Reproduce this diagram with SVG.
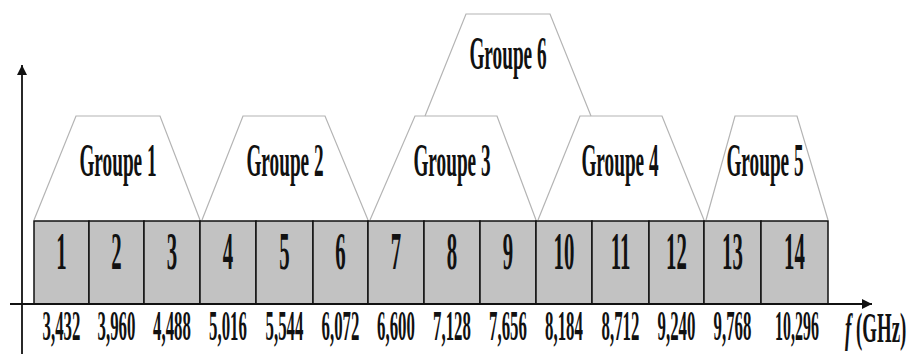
<svg xmlns="http://www.w3.org/2000/svg" width="909" height="354" viewBox="0 0 909 354">
<style>
.trap{fill:none;stroke:#b4b4b4;stroke-width:1.2}
.cell{fill:#c2c2c2;stroke:#111;stroke-width:1.5}
.t{font-family:"Liberation Serif","Times New Roman",serif;font-weight:bold;fill:#111;text-anchor:middle}
.grp{font-size:47px}
.num{font-size:52px}
.freq{font-size:42px}
.axis{stroke:#111;stroke-width:1.8;fill:none}
</style>
<defs>
<marker id="arr" viewBox="0 0 10 10" refX="10" refY="5" markerWidth="10" markerHeight="10" markerUnits="userSpaceOnUse" orient="auto">
<path d="M0,0 L10,5 L0,10 Z" fill="#111"/>
</marker>
</defs>
<rect width="909" height="354" fill="#fff"/>

<g id="groups">
<g id="groupe1"><polyline class="trap" points="34,220 76,116 160,116 200,220"/><text class="t grp" transform="translate(118 176) scale(0.41 1)">Groupe 1</text></g>
<g id="groupe2"><polyline class="trap" points="202,220 243,116 325,116 368,220"/><text class="t grp" transform="translate(285 176) scale(0.41 1)">Groupe 2</text></g>
<g id="groupe3"><polyline class="trap" points="370,220 415,116 497,116 536,220"/><text class="t grp" transform="translate(452 176) scale(0.41 1)">Groupe 3</text></g>
<g id="groupe4"><polyline class="trap" points="538,220 580,116 662,116 704,220"/><text class="t grp" transform="translate(620 176) scale(0.41 1)">Groupe 4</text></g>
<g id="groupe5"><polyline class="trap" points="706,220 735,116 797,116 828,220"/><text class="t grp" transform="translate(765 176) scale(0.41 1)">Groupe 5</text></g>
<g id="groupe6"><polyline class="trap" points="425,116 466,14 550,14 591,116"/><text class="t grp" transform="translate(508 69) scale(0.41 1)">Groupe 6</text></g>
</g>

<g id="cells">
<g id="c1"><rect class="cell" x="34" y="221" width="55" height="83"/><text class="t num" transform="translate(61.5 269) scale(0.4 1)">1</text><text class="t freq" transform="translate(61.5 340) scale(0.4 1)">3,432</text></g>
<g id="c2"><rect class="cell" x="89" y="221" width="55" height="83"/><text class="t num" transform="translate(116.5 269) scale(0.4 1)">2</text><text class="t freq" transform="translate(116.5 340) scale(0.4 1)">3,960</text></g>
<g id="c3"><rect class="cell" x="144" y="221" width="56" height="83"/><text class="t num" transform="translate(172 269) scale(0.4 1)">3</text><text class="t freq" transform="translate(172 340) scale(0.4 1)">4,488</text></g>
<g id="c4"><rect class="cell" x="200" y="221" width="56" height="83"/><text class="t num" transform="translate(228 269) scale(0.4 1)">4</text><text class="t freq" transform="translate(228 340) scale(0.4 1)">5,016</text></g>
<g id="c5"><rect class="cell" x="256" y="221" width="57" height="83"/><text class="t num" transform="translate(284.5 269) scale(0.4 1)">5</text><text class="t freq" transform="translate(284.5 340) scale(0.4 1)">5,544</text></g>
<g id="c6"><rect class="cell" x="313" y="221" width="55" height="83"/><text class="t num" transform="translate(340.5 269) scale(0.4 1)">6</text><text class="t freq" transform="translate(340.5 340) scale(0.4 1)">6,072</text></g>
<g id="c7"><rect class="cell" x="368" y="221" width="56" height="83"/><text class="t num" transform="translate(396 269) scale(0.4 1)">7</text><text class="t freq" transform="translate(396 340) scale(0.4 1)">6,600</text></g>
<g id="c8"><rect class="cell" x="424" y="221" width="56" height="83"/><text class="t num" transform="translate(452 269) scale(0.4 1)">8</text><text class="t freq" transform="translate(452 340) scale(0.4 1)">7,128</text></g>
<g id="c9"><rect class="cell" x="480" y="221" width="56" height="83"/><text class="t num" transform="translate(508 269) scale(0.4 1)">9</text><text class="t freq" transform="translate(508 340) scale(0.4 1)">7,656</text></g>
<g id="c10"><rect class="cell" x="536" y="221" width="56" height="83"/><text class="t num" transform="translate(564 269) scale(0.4 1)">10</text><text class="t freq" transform="translate(564 340) scale(0.4 1)">8,184</text></g>
<g id="c11"><rect class="cell" x="592" y="221" width="57" height="83"/><text class="t num" transform="translate(620.5 269) scale(0.4 1)">11</text><text class="t freq" transform="translate(620.5 340) scale(0.4 1)">8,712</text></g>
<g id="c12"><rect class="cell" x="649" y="221" width="55" height="83"/><text class="t num" transform="translate(676.5 269) scale(0.4 1)">12</text><text class="t freq" transform="translate(676.5 340) scale(0.4 1)">9,240</text></g>
<g id="c13"><rect class="cell" x="704" y="221" width="57" height="83"/><text class="t num" transform="translate(732.5 269) scale(0.4 1)">13</text><text class="t freq" transform="translate(732.5 340) scale(0.4 1)">9,768</text></g>
<g id="c14"><rect class="cell" x="761" y="221" width="67" height="83"/><text class="t num" transform="translate(794.5 269) scale(0.4 1)">14</text><text class="t freq" transform="translate(797 340) scale(0.38 1)">10,296</text></g>
</g>

<g id="connectors">
<line class="axis" x1="22" y1="354" x2="22" y2="65" marker-end="url(#arr)"/>
<line class="axis" x1="10" y1="304" x2="872" y2="304" marker-end="url(#arr)"/>
</g>

<g id="axis-label"><text class="t freq" style="text-anchor:start" transform="translate(845 342) scale(0.45 1)"><tspan font-style="italic">f</tspan> (GHz)</text></g>
</svg>
